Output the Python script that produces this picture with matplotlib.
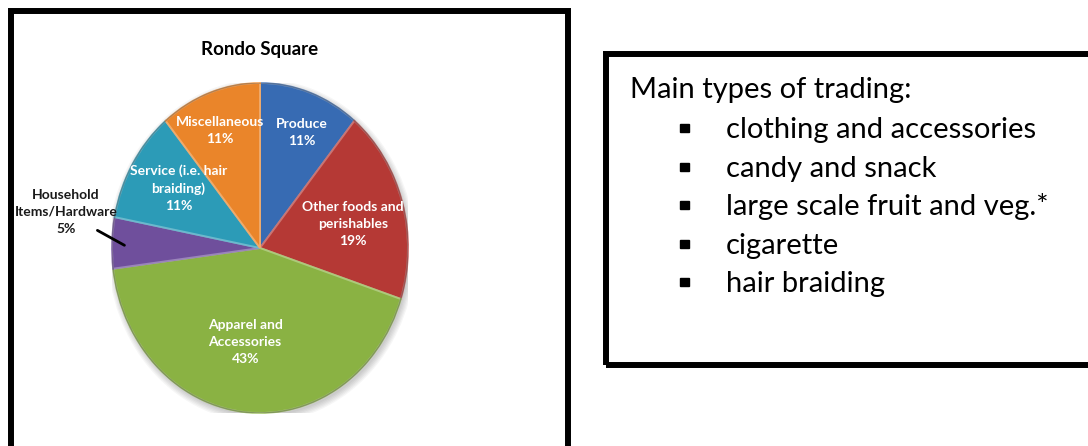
import numpy as np
import matplotlib
matplotlib.use("Agg")
import matplotlib.pyplot as plt
from matplotlib.patches import Rectangle, Circle
from matplotlib.colors import to_rgb

# Market composition of Rondo Square (share of traders, %)
categories = ["Produce", "Other foods and\nperishables", "Apparel and\nAccessories",
              "Household\nItems/Hardware", "Service (i.e. hair\nbraiding)", "Miscellaneous"]
shares = [11, 19, 43, 5, 11, 11]
trading_types = ["clothing and accessories", "candy and snack",
                 "large scale fruit and veg.*", "cigarette", "hair braiding"]

colors = ["#376bb3", "#b53935", "#8ab243", "#6f4f9c", "#2c9bb7", "#ea852a"]
# label anchor (axes data units, pie radius = 1)
label_pos = [(0.285, 0.70), (0.63, 0.145), (-0.10, -0.57),
             (-1.31, 0.22), (-0.55, 0.36), (-0.27, 0.715)]

W, H = 1088, 446
fig = plt.figure(figsize=(W / 100, H / 100), dpi=100)
fig.patch.set_facecolor("white")
plt.rcParams["font.family"] = ["Lato", "DejaVu Sans"]


def fx(px):
    return px / W


def fy(py):
    return 1 - py / H


def tint(c, amt):
    r = np.array(to_rgb(c))
    return tuple(r + (1 - r) * amt)


# frames
fig.add_artist(Rectangle((fx(11), fy(460)), fx(567.5) - fx(11), fy(10.5) - fy(460),
                         transform=fig.transFigure, fill=False, lw=4.3, ec="black"))
fig.add_artist(Rectangle((fx(605.5), fy(365)), fx(1100) - fx(605.5), fy(54) - fy(365),
                         transform=fig.transFigure, fill=False, lw=4.3, ec="black"))

# pie axes: slightly taller than wide
cx, cy, rx, ry = 260, 248, 148, 165
ax = fig.add_axes([fx(cx - rx), fy(cy + ry), 2 * rx / W, 2 * ry / H])
ax.set_facecolor("none")

# soft drop shadow
for k in range(6):
    ax.add_patch(Circle((0.012, -0.018), 1.0 + 0.008 * k, color="black",
                        alpha=0.035, lw=0, zorder=0))

wedges, _ = ax.pie(shares, colors=colors, startangle=90, counterclock=False,
                   radius=1.0, wedgeprops=dict(linewidth=1.4))
for w, c in zip(wedges, colors):
    w.set_edgecolor(tint(c, 0.3))
    w.set_zorder(2)
ax.add_patch(Circle((0, 0), 1.0, fill=False, ec=(0, 0, 0, 0.25), lw=1.0, zorder=3))
ax.set_aspect("auto")
ax.set_xlim(-1, 1)
ax.set_ylim(-1, 1)
ax.axis("off")

# slice labels
total = sum(shares)
for name, val, (x, y), w in zip(categories, shares, label_pos, wedges):
    txt = f"{name}\n{round(100 * val / total)}%"
    inside = abs(x) < 1
    ax.text(x, y, txt, ha="center", va="center", fontsize=10, fontweight="bold",
            color="white" if inside else "#1a1a1a", linespacing=1.5, zorder=5)
    if not inside:
        mid = np.deg2rad((w.theta1 + w.theta2) / 2)
        ax.annotate("", xy=(0.9 * np.cos(mid), 0.9 * np.sin(mid) - 0.02),
                    xytext=(-1.115, 0.115),
                    arrowprops=dict(arrowstyle="-", lw=2, color="black"), zorder=5)

fig.text(fx(260), fy(50), "Rondo Square", ha="center", va="center",
         fontsize=13.5, fontweight="bold", color="black")

# list of main trading types
fig.text(fx(630), fy(98), "Main types of trading:", ha="left", va="baseline",
         fontsize=21, color="black")
for i, item in enumerate(trading_types):
    base = 138 + i * 38.6
    fig.add_artist(Rectangle((fx(680), fy(base - 6)), fx(9) - fx(0), fy(0) - fy(8),
                             transform=fig.transFigure, color="black"))
    fig.text(fx(726), fy(base), item, ha="left", va="baseline", fontsize=21, color="black")

fig.savefig("out.png", dpi=100, facecolor="white")
